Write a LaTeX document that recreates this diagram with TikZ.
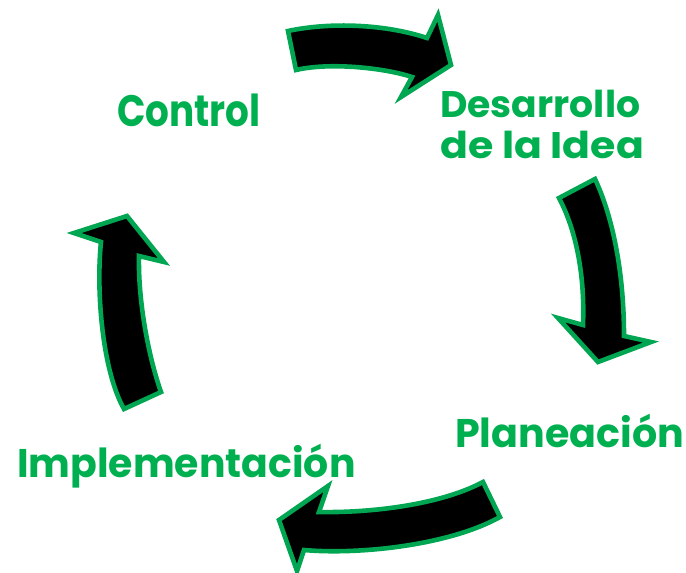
\documentclass[tikz,border=0pt]{standalone}
\usepackage{fontspec}
\usepackage{graphicx}
\setmainfont{Poppins}
\definecolor{cgreen}{RGB}{0,176,80}
\definecolor{ogreen}{RGB}{0,166,81}
\tikzset{
  arrowshape/.style={fill=black, draw=ogreen, line width=4.6pt, line join=miter},
  lbl/.style={text=cgreen, font=\bfseries, inner sep=0pt, anchor=base west}
}
\begin{document}
\begin{tikzpicture}[x=1pt,y=-1pt]
\path[use as bounding box] (0,0) rectangle (686,573);
% top arrow
\path[arrowshape] (288,31) .. controls (330,22) and (385,24) .. (427,38)
  -- (438,15) -- (451,65) -- (401,97) -- (412,77)
  .. controls (385,68) and (330,62) .. (296,70) -- cycle;
% right arrow
\path[arrowshape] (559,198) -- (595,179) .. controls (612,215) and (624,270) .. (624,336)
  -- (651,342) -- (598,362) -- (558,318) -- (583,325)
  .. controls (585,275) and (576,230) .. (559,198) -- cycle;
% bottom arrow
\path[arrowshape] (483,482) .. controls (440,505) and (370,513) .. (319,512)
  -- (328,486) -- (279,520) -- (297,571) -- (304,550)
  .. controls (360,555) and (450,545) .. (500,517) -- cycle;
% left arrow
\path[arrowshape] (124,409) -- (161,392) .. controls (148,355) and (138,300) .. (139,256)
  -- (164,262) -- (127,216) -- (74,233) -- (101,242)
  .. controls (96,290) and (102,370) .. (124,409) -- cycle;
% labels
\node[lbl, font=\bfseries\fontsize{44}{44}\selectfont] (ctrl) at (117,126) {\scalebox{0.85}[1]{Control}};
\node[lbl, font=\bfseries\fontsize{37}{37}\selectfont] (des1) at (440,117) {\scalebox{1.02}[1]{Desarrollo}};
\node[lbl, font=\bfseries\fontsize{37}{37}\selectfont] (des2) at (440,158) {\scalebox{1.11}[1]{de la Idea}};
\node[lbl, font=\bfseries\fontsize{40}{40}\selectfont] (plan) at (455,447) {\scalebox{0.99}[1]{Planeación}};
\node[lbl, font=\bfseries\fontsize{40}{40}\selectfont] (impl) at (17,477) {\scalebox{0.985}[1]{Implementación}};
\end{tikzpicture}
\end{document}
